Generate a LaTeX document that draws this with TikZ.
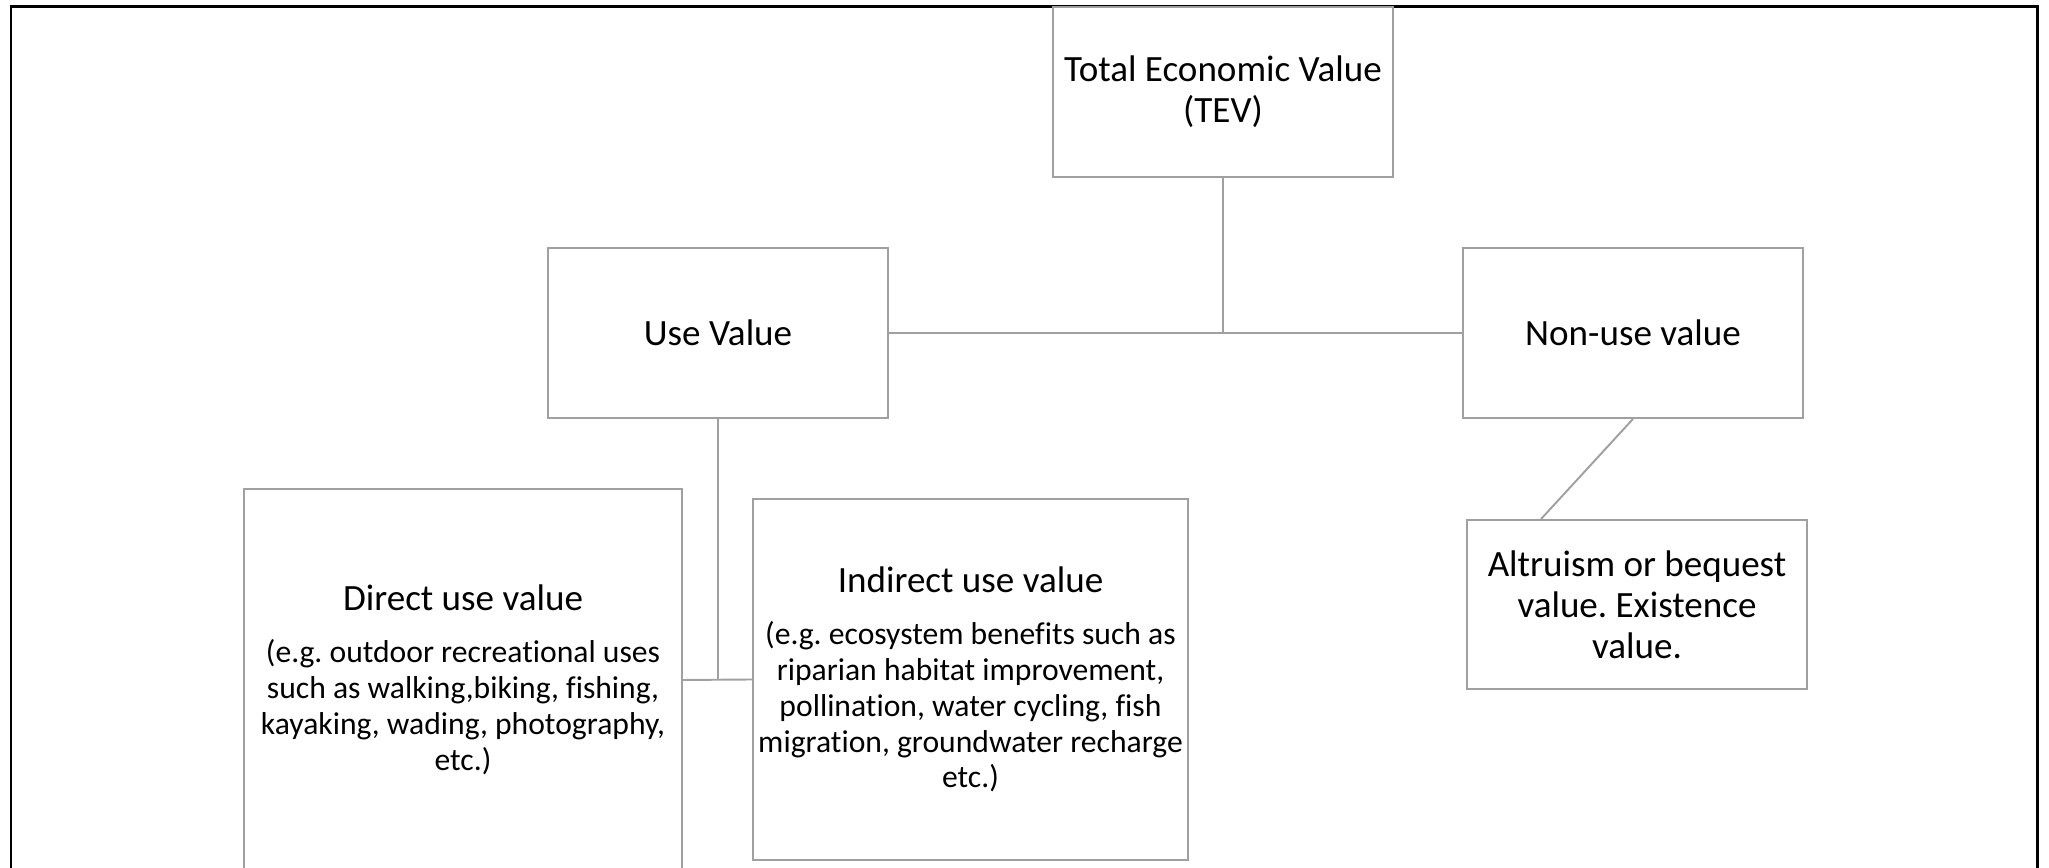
\documentclass[tikz,border=0pt]{standalone}
\usepackage{fontspec}
\setmainfont{Carlito}[Ligatures={NoCommon}]
\usepackage{tikz}
\frenchspacing
\definecolor{boxgray}{RGB}{160,160,160}
\newcommand{\headfont}{\fontsize{21.1}{23.3}\selectfont}
\newcommand{\notefont}{\fontsize{18}{20.4}\selectfont}
\tikzset{
    valbox/.style={rectangle, draw=boxgray, line width=1.1pt, inner sep=0pt,
    	align=center, font=\headfont, text=black}
}
\tikzset{
    every edge/.append style={draw=boxgray, line width=1.1pt}
}

\begin{document}
\begin{tikzpicture}
	\useasboundingbox (0cm,0cm) rectangle (40.98cm,17.36cm);
	\draw [line width=1.7pt] (0.22cm,-0.3cm) -- (0.22cm,17.22cm) -- (40.74cm,17.22cm) -- (40.74cm,-0.3cm);

	\node (tev) [valbox, minimum width=6.8cm, minimum height=3.4cm] at (24.46cm,15.52cm) {Total Economic Value\\(TEV)};
	\node (use) [valbox, minimum width=6.8cm, minimum height=3.4cm] at (14.36cm,10.7cm) {Use Value};
	\node (nonuse) [valbox, minimum width=6.8cm, minimum height=3.4cm] at (32.66cm,10.7cm) {Non-use value};
	\node (direct) [valbox, font=\notefont, minimum width=8.76cm, minimum height=7.64cm] at (9.26cm,3.76cm)
		{{\headfont Direct use value}\\[9.2pt]
		(e.g. outdoor recreational uses\\ such as walking,biking, fishing,\\
		kayaking, wading, photography,\\ etc.)};
	\node (indirect) [valbox, font=\notefont, minimum width=8.7cm, minimum height=7.22cm] at (19.41cm,3.77cm)
		{{\headfont Indirect use value}\\[9.2pt]
		(e.g. ecosystem benefits such as\\ riparian habitat improvement,\\
		pollination, water cycling, fish\\ migration, groundwater recharge\\ etc.)};
	\node (alt) [valbox, minimum width=6.8cm, minimum height=3.38cm] at (32.74cm,5.27cm)
		{Altruism or bequest\\value. Existence\\value.};

	\coordinate (hub) at (tev.south |- use.east);
	\coordinate (fork) at (use.south |- direct.east);
	\draw (tev.south) edge (hub); \draw (use) edge (nonuse);
	\draw (use.south) edge (fork); \draw (direct.east) edge (indirect.west);
	\draw (nonuse.south) edge ([xshift=1.5cm]alt.north west);
\end{tikzpicture}
\end{document}
